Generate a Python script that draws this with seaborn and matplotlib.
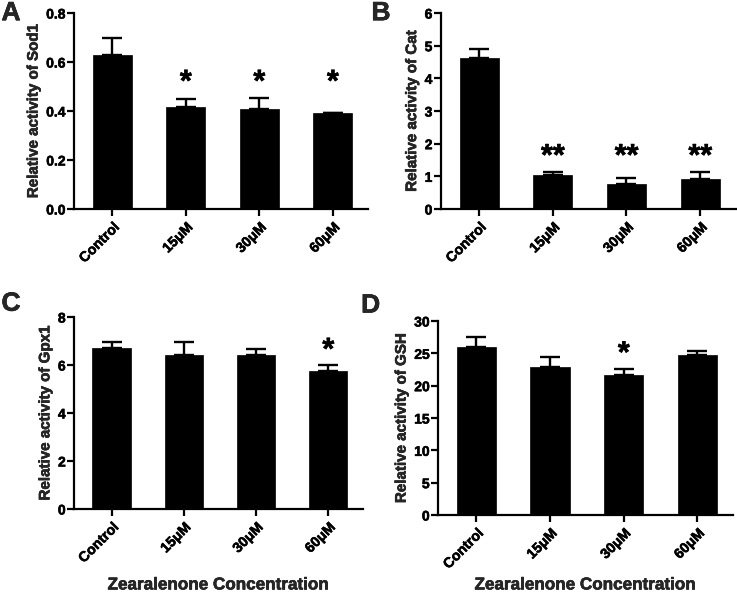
import matplotlib
matplotlib.use("Agg")
import matplotlib.pyplot as plt
import matplotlib.patheffects as pe
import seaborn as sns
import pandas as pd

categories = ["Control", "15\u03bcM", "30\u03bcM", "60\u03bcM"]

sod1_mean = [0.63, 0.418, 0.41, 0.39]
sod1_err = [0.07, 0.03, 0.045, 0.003]
cat_mean = [4.63, 1.05, 0.78, 0.92]
cat_err = [0.26, 0.09, 0.18, 0.20]
gpx1_mean = [6.72, 6.43, 6.43, 5.75]
gpx1_err = [0.25, 0.54, 0.25, 0.24]
gsh_mean = [26.0, 22.9, 21.6, 24.7]
gsh_err = [1.6, 1.6, 1.0, 0.6]

sod1_sig = ["", "*", "*", "*"]
cat_sig = ["", "**", "**", "**"]
gpx1_sig = ["", "", "", "*"]
gsh_sig = ["", "", "*", ""]

panel_letters = ["A", "B", "C", "D"]
ylabels = ["Relative activity of Sod1", "Relative activity of Cat",
           "Relative activity of Gpx1", "Relative activity of GSH"]
ymax = [0.8, 6, 8, 30]
ystep = [0.2, 1, 2, 5]
xlabel = "Zearalenone Concentration"

sns.set_theme(style="ticks")
plt.rcParams["font.family"] = ["Liberation Sans", "DejaVu Sans"]
plt.rcParams["font.weight"] = "bold"

heavy = [pe.withStroke(linewidth=0.4, foreground="black")]

fig = plt.figure(figsize=(7.37, 5.93), dpi=100)

rects = [
    [0.1004, 0.6476, 0.399, 0.3304],
    [0.598, 0.6476, 0.400, 0.3304],
    [0.1004, 0.1417, 0.392, 0.3237],
    [0.5943, 0.1315, 0.400, 0.3272],
]
letter_pos = [(0.002, 0.998), (0.504, 0.998), (0.002, 0.508), (0.490, 0.505)]

datasets = [
    (sod1_mean, sod1_err, sod1_sig),
    (cat_mean, cat_err, cat_sig),
    (gpx1_mean, gpx1_err, gpx1_sig),
    (gsh_mean, gsh_err, gsh_sig),
]

for i, (means, errs, sigs) in enumerate(datasets):
    ax = fig.add_axes(rects[i])
    df = pd.DataFrame({"group": categories, "value": means})
    sns.barplot(data=df, x="group", y="value", color="black", saturation=1,
                width=0.53, errorbar=None, ax=ax, edgecolor="black", linewidth=0.5)
    ax.errorbar(range(len(categories)), means, yerr=[[0] * len(errs), errs],
                fmt="none", ecolor="black", elinewidth=1.7, capsize=7,
                capthick=1.7, zorder=1)
    ax.set_ylim(0, ymax[i])
    ax.set_xlim(-0.52, 3.48)
    n = int(round(ymax[i] / ystep[i]))
    ticks = [ystep[i] * k for k in range(n + 1)]
    ax.set_yticks(ticks)
    if ystep[i] < 1:
        ax.set_yticklabels([f"{t:.1f}" for t in ticks])
    else:
        ax.set_yticklabels([f"{int(round(t))}" for t in ticks])
    for lab in ax.get_yticklabels():
        lab.set_fontweight("bold")
        lab.set_fontsize(10)
        lab.set_path_effects(heavy)
    ax.set_xticks(range(len(categories)))
    ax.set_xticklabels(categories, rotation=45, ha="right",
                       rotation_mode="anchor", fontsize=10.2, fontweight="bold")
    for lab in ax.get_xticklabels():
        lab.set_path_effects(heavy)
    ax.set_ylabel(ylabels[i], fontsize=10.9, fontweight="bold", labelpad=4,
                  path_effects=heavy)
    ax.set_xlabel("")
    if i >= 2:
        cx = rects[i][0] + rects[i][2] / 2
        fig.text(cx, 0.006, xlabel, ha="center", va="baseline", fontsize=12.3,
                 fontweight="bold", path_effects=heavy)
    sns.despine(ax=ax)
    for sp in ["left", "bottom"]:
        ax.spines[sp].set_linewidth(1.6)
        ax.spines[sp].set_color("black")
    ax.tick_params(axis="both", direction="out", length=5, width=1.6,
                   colors="black")
    ax.tick_params(axis="y", pad=1)
    ax.tick_params(axis="x", pad=3)
    tops = [m + e for m, e, s in zip(means, errs, sigs) if s]
    if tops:
        ystar = max(tops) + 0.075 * ymax[i]
        for j, s in enumerate(sigs):
            if s:
                ax.text(j, ystar, s, ha="center", va="center", fontsize=22,
                        fontweight="bold", color="black", path_effects=heavy)
    fig.text(letter_pos[i][0], letter_pos[i][1], panel_letters[i],
             fontsize=19, fontweight="bold", ha="left", va="top",
             path_effects=heavy)

fig.savefig("out.png", dpi=100)
